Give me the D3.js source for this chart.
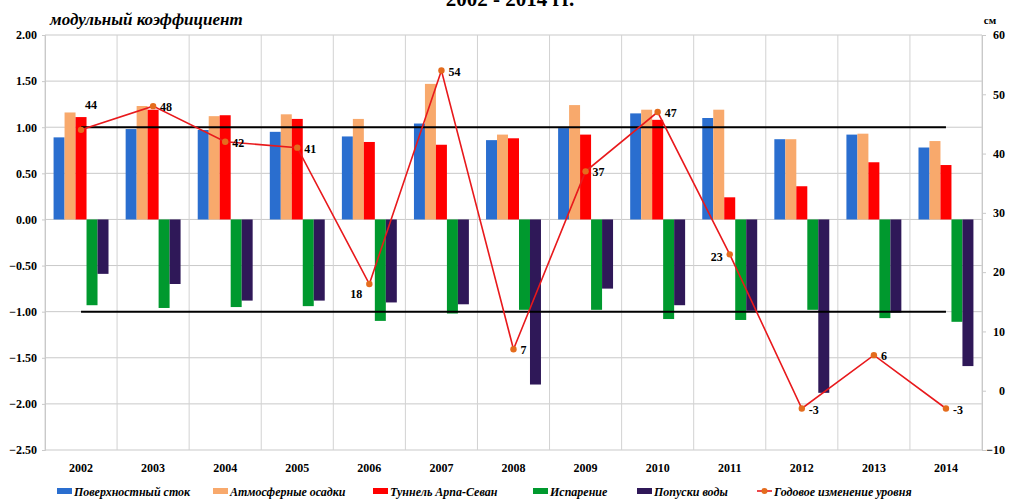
<!DOCTYPE html>
<html lang="ru">
<head>
<meta charset="UTF-8">
<script src="https://d3js.org/d3.v7.min.js"></script>
<title>Модульный коэффициент</title>
<style>
    body { margin: 0; background: #fff; }
    text { font-family: "Liberation Serif", "DejaVu Serif", serif; font-weight: bold; }
</style>
</head>
<body>
<script>
    // data
    var years = ["2002", "2003", "2004", "2005", "2006", "2007", "2008", "2009", "2010", "2011", "2012", "2013", "2014"];
    var surfaceRunoff = [0.89, 0.98, 0.97, 0.95, 0.90, 1.04, 0.86, 0.99, 1.15, 1.10, 0.87, 0.92, 0.78];
    var precipitation = [1.16, 1.23, 1.12, 1.14, 1.09, 1.47, 0.92, 1.24, 1.19, 1.19, 0.87, 0.93, 0.85];
    var tunnel = [1.11, 1.19, 1.13, 1.09, 0.84, 0.81, 0.88, 0.92, 1.08, 0.24, 0.36, 0.62, 0.59];
    var evaporation = [-0.93, -0.96, -0.95, -0.94, -1.10, -1.02, -0.98, -0.98, -1.08, -1.09, -0.98, -1.07, -1.11];
    var releases = [-0.59, -0.70, -0.88, -0.88, -0.90, -0.92, -1.79, -0.75, -0.93, -0.99, -1.88, -1.01, -1.59];
    var levelChange = [44, 48, 42, 41, 18, 54, 7, 37, 47, 23, -3, 6, -3];
    var leftTicks = [2, 1.5, 1, 0.5, 0, -0.5, -1, -1.5, -2, -2.5];
    var rightTicks = [60, 50, 40, 30, 20, 10, 0, -10];
    var seriesNames = ["Поверхностный сток", "Атмосферные осадки", "Туннель Арпа-Севан", "Испарение", "Попуски воды"];
    var lineName = "Годовое изменение уровня";

    var colors = ["#2a6ecf", "#f8a96c", "#ff0000", "#00992e", "#2f1858"];
    var series = [surfaceRunoff, precipitation, tunnel, evaporation, releases];

    var W = 1009, H = 502;
    var svg = d3.select("body").append("svg").attr("width", W).attr("height", H);

    // plot area edges
    var pL = 45, pR = 982, pT = 35, pB = 450;
    var x0 = d3.scaleBand().domain(years).range([pL, pR]);
    var x1 = d3.scaleBand().domain(d3.range(5)).range([0, x0.bandwidth()]).paddingOuter(0.78);
    var yL = d3.scaleLinear().domain([-2.5, 2]).range([pB, pT]);
    var yR = d3.scaleLinear().domain([-10, 60]).range([pB, pT]);

    // title, mostly cut off at the top (as in the source image)
    svg.append("text").attr("x", 510).attr("y", 6).attr("text-anchor", "middle")
        .style("font-size", "21px").text("2002 - 2014 гг.");

    // grid
    svg.append("g").selectAll("line").data(leftTicks).join("line")
        .attr("x1", pL).attr("x2", pR)
        .attr("y1", d => yL(d)).attr("y2", d => yL(d))
        .attr("stroke", "#c9c9c9").attr("stroke-width", 1);
    var bounds = years.map(d => x0(d)).concat([pR]);
    svg.append("g").selectAll("line").data(bounds).join("line")
        .attr("x1", d => d).attr("x2", d => d)
        .attr("y1", pT).attr("y2", pB)
        .attr("stroke", "#d2d2d2").attr("stroke-width", 1);

    // left axis
    var axL = svg.append("g").attr("transform", "translate(" + pL + ",0)")
        .call(d3.axisLeft(yL).tickValues(leftTicks).tickFormat(d3.format(".2f")).tickSize(3).tickPadding(5));
    axL.select(".domain").attr("stroke", "#c9c9c9");
    axL.selectAll(".tick line").attr("stroke", "#c9c9c9");
    axL.selectAll("text").style("font-size", "12px").attr("fill", "#000");

    // right axis
    var axR = svg.append("g").attr("transform", "translate(" + pR + ",0)")
        .call(d3.axisRight(yR).tickValues(rightTicks).tickSize(4).tickPadding(8));
    axR.select(".domain").attr("stroke", "#c9c9c9");
    axR.selectAll(".tick line").attr("stroke", "#c9c9c9");
    axR.selectAll("text").style("font-size", "12px").attr("fill", "#000")
        .attr("text-anchor", "end").attr("x", 23);

    svg.append("text").attr("x", 990).attr("y", 24).attr("text-anchor", "middle")
        .style("font-size", "11px").text("см");

    svg.append("text").attr("x", 50).attr("y", 25)
        .style("font-size", "17px").style("font-style", "italic")
        .text("модульный коэффициент");

    // x labels
    svg.append("g").selectAll("text").data(years).join("text")
        .attr("x", d => x0(d) + x0.bandwidth() / 2).attr("y", 472)
        .attr("text-anchor", "middle").style("font-size", "12px").text(d => d);

    // bars
    series.forEach(function (vals, s) {
        svg.append("g").selectAll("rect").data(vals).join("rect")
            .attr("x", (d, i) => x0(years[i]) + x1(s))
            .attr("width", x1.bandwidth())
            .attr("y", d => yL(Math.max(0, d)))
            .attr("height", d => Math.abs(yL(d) - yL(0)))
            .attr("fill", colors[s]);
    });

    // reference lines at +1 and -1
    var xa = x0(years[0]) + x0.bandwidth() / 2, xb = x0(years[years.length - 1]) + x0.bandwidth() / 2;
    [1, -1].forEach(function (v) {
        svg.append("line").attr("x1", xa).attr("x2", xb)
            .attr("y1", yL(v)).attr("y2", yL(v))
            .attr("stroke", "#000").attr("stroke-width", 2);
    });

    // level change line
    var cx = (d, i) => x0(years[i]) + x0.bandwidth() / 2;
    svg.append("path").datum(levelChange)
        .attr("d", d3.line().x(cx).y(d => yR(d)))
        .attr("fill", "none").attr("stroke", "#e8191c").attr("stroke-width", 1.6);
    svg.append("g").selectAll("circle").data(levelChange).join("circle")
        .attr("cx", cx).attr("cy", d => yR(d)).attr("r", 3.2).attr("fill", "#e46c1d");

    // label placement: most labels sit right of the point
    function labelPos(i) {
        if (i === 0) return { dx: 4, dy: -21, anchor: "start" };
        if (i === 4) return { dx: -7, dy: 14, anchor: "end" };
        if (i === 9) return { dx: -7, dy: 7, anchor: "end" };
        return { dx: 7, dy: 5, anchor: "start" };
    }
    svg.append("g").selectAll("text").data(levelChange).join("text")
        .each(function (d, i) {
            var p = labelPos(i);
            d3.select(this).attr("x", cx(d, i) + p.dx).attr("y", yR(d) + p.dy)
                .attr("text-anchor", p.anchor);
        })
        .style("font-size", "12px").text(d => d);

    // legend
    var legX = [57, 213, 373, 533, 637];
    var leg = svg.append("g");
    seriesNames.forEach(function (name, s) {
        leg.append("rect").attr("x", legX[s]).attr("y", 488).attr("width", 15).attr("height", 6).attr("fill", colors[s]);
        leg.append("text").attr("x", legX[s] + 17).attr("y", 496)
            .style("font-size", "12px").style("font-style", "italic").text(name);
    });
    leg.append("line").attr("x1", 757).attr("x2", 772).attr("y1", 491).attr("y2", 491)
        .attr("stroke", "#e8191c").attr("stroke-width", 1.6);
    leg.append("circle").attr("cx", 764.5).attr("cy", 491).attr("r", 3).attr("fill", "#e46c1d");
    leg.append("text").attr("x", 774).attr("y", 496)
        .style("font-size", "12px").style("font-style", "italic").text(lineName);
</script>
</body>
</html>
